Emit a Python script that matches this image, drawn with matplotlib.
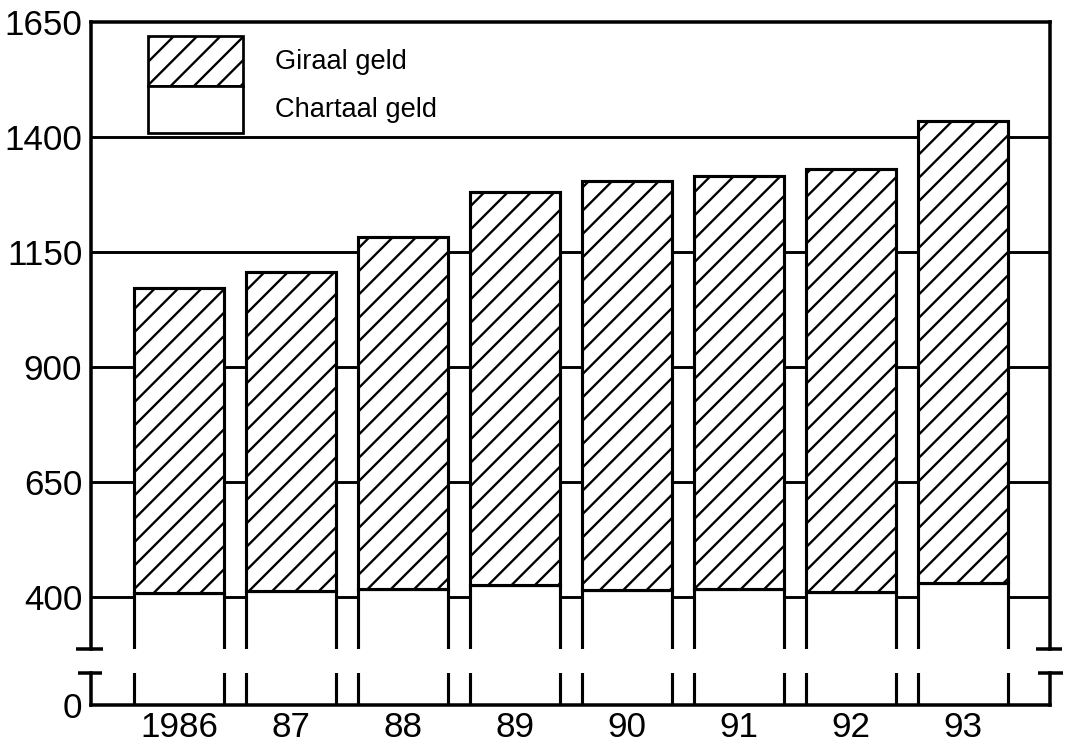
"""Geldhoeveelheid 1986-93: chartaal en giraal geld (gestapelde staven, gebroken as)."""
import numpy as np
import matplotlib
matplotlib.use("Agg")
import matplotlib.pyplot as plt
from matplotlib.patches import Rectangle

YEAR_LABELS = ["1986", "87", "88", "89", "90", "91", "92", "93"]
CHARTAAL = [409, 413, 417, 426, 415, 417, 411, 430]
GIRAAL = [663, 694, 766, 854, 889, 898, 919, 1005]
Y_TICKS = [400, 650, 900, 1150, 1400, 1650]
LEGEND_LABELS = ["Giraal geld", "Chartaal geld"]

# gebroken y-as: "0" staat op AX_ZERO, tussen BREAK_LO en BREAK_HI zit de onderbreking
AX_ZERO = 165
BREAK_LO, BREAK_HI = 235, 287

plt.rcParams["font.family"] = ["Liberation Sans", "DejaVu Sans"]
plt.rcParams["hatch.linewidth"] = 1.2

DPI = 140
fig = plt.figure(figsize=(1067 / DPI, 744 / DPI), dpi=DPI)
ax = fig.add_axes([91 / 1067, 39 / 744, 959 / 1067, 683 / 744])

x = np.arange(len(YEAR_LABELS))
width = 0.8
ax.bar(x, CHARTAAL, width, color="white", edgecolor="black", linewidth=1.6, zorder=2)
ax.bar(x, GIRAAL, width, bottom=CHARTAAL, color="white", edgecolor="black",
       hatch="//", linewidth=1.6, zorder=2)

for y in Y_TICKS[:-1]:
    ax.axhline(y, color="black", linewidth=1.5, zorder=1)

ax.set_xlim(-0.786, 7.777)
ax.set_ylim(AX_ZERO, Y_TICKS[-1])
ax.set_xticks(x)
ax.set_xticklabels(YEAR_LABELS)
ax.set_yticks([AX_ZERO] + Y_TICKS)
ax.set_yticklabels(["0"] + [str(v) for v in Y_TICKS])
ax.tick_params(axis="both", length=0, labelsize=18)
ax.tick_params(axis="y", pad=4.5)
ax.tick_params(axis="x", pad=3)

for side in ("left", "right"):
    ax.spines[side].set_visible(False)
for side in ("top", "bottom"):
    ax.spines[side].set_linewidth(1.8)

# onderbreking: witte band over alles heen
trans = ax.get_yaxis_transform()
ax.add_patch(Rectangle((0, BREAK_LO), 1, BREAK_HI - BREAK_LO, transform=trans,
                       facecolor="white", edgecolor="none", zorder=3, clip_on=False))

line_kw = dict(color="black", linewidth=1.8, transform=trans, clip_on=False, zorder=4,
               solid_capstyle="projecting")
for xa in (0, 1):
    ax.plot([xa, xa], [AX_ZERO, BREAK_LO], **line_kw)
    ax.plot([xa, xa], [BREAK_HI, Y_TICKS[-1]], **line_kw)
cap_kw = dict(line_kw, solid_capstyle="butt")
ax.plot([-0.016, 0.0125], [BREAK_HI, BREAK_HI], **cap_kw)
ax.plot([-0.014, 0.011], [BREAK_LO, BREAK_LO], **cap_kw)
ax.plot([0.985, 1.013], [BREAK_HI, BREAK_HI], **cap_kw)
ax.plot([0.987, 1.014], [BREAK_LO, BREAK_LO], **cap_kw)

# legenda: twee gestapelde vakjes
ax.add_patch(Rectangle((0.0594, 0.9063), 0.0991, 0.0732, transform=ax.transAxes,
                       facecolor="white", edgecolor="black", hatch="//",
                       linewidth=1.4, zorder=5))
ax.add_patch(Rectangle((0.0594, 0.8375), 0.0991, 0.0688, transform=ax.transAxes,
                       facecolor="white", edgecolor="black", linewidth=1.4, zorder=5))
ax.text(0.1919, 0.9414, LEGEND_LABELS[0], transform=ax.transAxes, va="center",
        fontsize=14)
ax.text(0.1919, 0.8712, LEGEND_LABELS[1], transform=ax.transAxes, va="center",
        fontsize=14)

fig.savefig("out.png", dpi=DPI)
